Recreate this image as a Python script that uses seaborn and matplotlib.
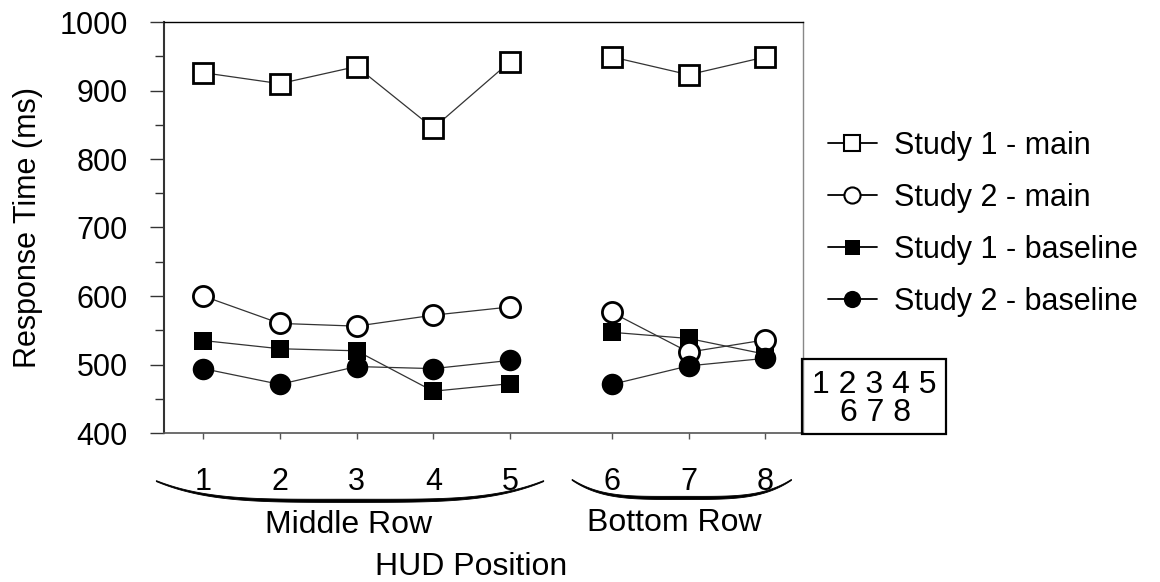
import numpy as np
import pandas as pd
import matplotlib.pyplot as plt
import seaborn as sns
import matplotlib.transforms as mtransforms
from matplotlib.lines import Line2D
from matplotlib.patches import Rectangle

# HUD positions: 1-5 middle row, 6-8 bottom row (gap between the rows)
hud_labels = ['1', '2', '3', '4', '5', '6', '7', '8']
hud_pos = [1, 2, 3, 4, 5, 6.33, 7.33, 8.33]
hud_row = ['Middle Row'] * 5 + ['Bottom Row'] * 3

# response times (ms)
study1_main = [926, 910, 935, 845, 942, 949, 923, 949]
study2_main = [600, 560, 556, 572, 584, 576, 518, 536]
study1_baseline = [535, 523, 520, 461, 472, 547, 538, 515]
study2_baseline = [494, 471, 497, 494, 506, 471, 498, 509]

series_names = ['Study 1 - main', 'Study 2 - main', 'Study 1 - baseline', 'Study 2 - baseline']
y_ticks = [400, 500, 600, 700, 800, 900, 1000]

sns.set_theme(style='white')
plt.rcParams['font.family'] = ['Liberation Sans', 'DejaVu Sans']
plt.rcParams.update({
    'font.size': 22, 'axes.labelsize': 22, 'xtick.labelsize': 22, 'ytick.labelsize': 22,
    'legend.fontsize': 22, 'text.color': 'black', 'axes.labelcolor': 'black',
    'xtick.color': 'black', 'ytick.color': 'black',
})

df = pd.DataFrame({
    'pos': hud_pos * 4,
    'rt': study1_main + study2_main + study1_baseline + study2_baseline,
    'series': np.repeat(series_names, len(hud_pos)),
    'row': hud_row * 4,
})

styles = {
    'Study 1 - main': dict(marker='s', ms=14, mfc='white', mew=2.0),
    'Study 2 - main': dict(marker='o', ms=14.5, mfc='white', mew=2.0),
    'Study 1 - baseline': dict(marker='s', ms=13.5, mfc='black', mew=0),
    'Study 2 - baseline': dict(marker='o', ms=15.5, mfc='black', mew=0),
}
draw_order = ['Study 1 - main', 'Study 1 - baseline', 'Study 2 - main', 'Study 2 - baseline']

fig = plt.figure(figsize=(11.6, 5.82), dpi=100)
ax = fig.add_axes([164 / 1160, 1 - 433 / 582, (803 - 164) / 1160, (433 - 22) / 582])

for z, name in enumerate(draw_order):
    st = styles[name]
    for row in ['Middle Row', 'Bottom Row']:
        sub = df[(df['series'] == name) & (df['row'] == row)]
        sns.lineplot(data=sub, x='pos', y='rt', ax=ax, color='#333333', linewidth=0.9,
                     marker=st['marker'], markersize=st['ms'], markerfacecolor=st['mfc'],
                     markeredgecolor='black', markeredgewidth=st['mew'],
                     legend=False, zorder=3 + z)

ax.set_xlim(0.49, 8.82)
ax.set_ylim(400, 1000)
ax.set_xticks(hud_pos)
ax.set_xticklabels(hud_labels)
ax.set_yticks(y_ticks)
ax.set_yticks(np.arange(450, 1000, 100), minor=True)
ax.tick_params(axis='y', which='major', direction='out', length=10, width=1, color='#333333', pad=16, left=True)
ax.tick_params(axis='y', which='minor', direction='out', length=6.5, width=1, color='#333333', left=True)
ax.tick_params(axis='x', direction='out', length=4.5, width=1, color='#555555', pad=20, bottom=True)
ax.set_xlabel('')
ax.set_ylabel('Response Time (ms)', labelpad=12)

for side, col, lw in [('left', '#333333', 1.5), ('bottom', '#555555', 1.2),
                      ('top', 'black', 1.0), ('right', '#888888', 1.0)]:
    ax.spines[side].set_visible(True)
    ax.spines[side].set_color(col)
    ax.spines[side].set_linewidth(lw)

# braces under the tick labels, thicker in the middle
trans = mtransforms.blended_transform_factory(ax.transData, ax.transAxes)
groups = [
    (hud_pos[0] - 0.61, hud_pos[4] + 0.44, -0.117, -0.165),
    (hud_pos[5] - 0.52, hud_pos[7] + 0.34, -0.114, -0.158),
]
px = 1 / 411
t = np.linspace(-1, 1, 200)
for x0, x1, y_end, y_low in groups:
    xs = (x0 + x1) / 2 + (x1 - x0) / 2 * t
    ys = y_low + (y_end - y_low) * np.abs(t) ** 4
    thick = (1.0 + 2.2 * (1 - t ** 2)) * px
    poly_x = np.concatenate([xs, xs[::-1]])
    poly_y = np.concatenate([ys + thick / 2, (ys - thick / 2)[::-1]])
    ax.fill(poly_x, poly_y, color='black', lw=0.6, ec='black', transform=trans, clip_on=False)

ax.text(2.90, -0.224, 'Middle Row', transform=trans, ha='center', va='center', fontsize=23)
ax.text(7.14, -0.219, 'Bottom Row', transform=trans, ha='center', va='center', fontsize=23)
ax.text(4.50, -0.326, 'HUD Position', transform=trans, ha='center', va='center', fontsize=23)

# legend
handles = [Line2D([0], [0], color='black', lw=1.3, marker=styles[n]['marker'],
                  markersize=styles[n]['ms'] * 0.8, markerfacecolor=styles[n]['mfc'],
                  markeredgecolor='black', markeredgewidth=1.5 if styles[n]['mew'] else 0)
           for n in series_names]
fig.legend(handles, series_names, loc='upper left', bbox_to_anchor=(828 / 1160, 1 - 131 / 582),
           frameon=False, borderpad=0, borderaxespad=0, handlelength=1.6,
           handletextpad=0.55, labelspacing=0.72, fontsize=22)

# layout key box
fig.add_artist(Rectangle((802 / 1160, 1 - 434 / 582), (946 - 802) / 1160, (434 - 359) / 582,
                         transform=fig.transFigure, fill=False, lw=1.6, ec='black', zorder=5))
fig.text(874 / 1160, 1 - 385 / 582, '1 2 3 4 5', ha='center', va='center', fontsize=23)
fig.text(875 / 1160, 1 - 413 / 582, '6 7 8', ha='center', va='center', fontsize=23)

fig.savefig('out.png', dpi=100)
